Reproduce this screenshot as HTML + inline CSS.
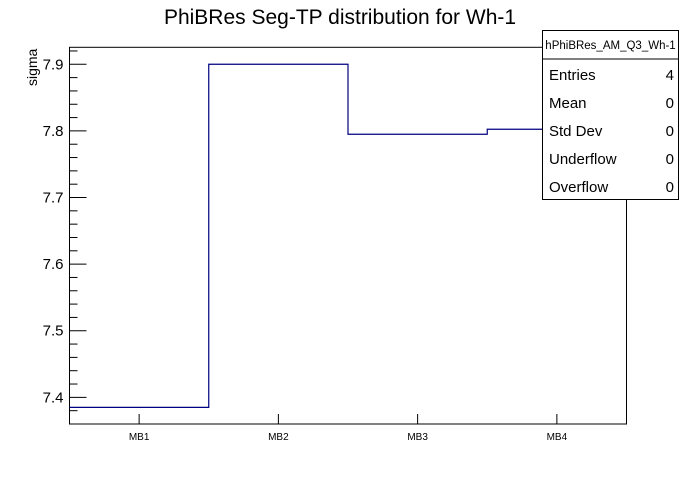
<!DOCTYPE html>
<html><head><meta charset="utf-8"><style>
body{margin:0;background:#fff;}
svg text{font-family:"Liberation Sans",sans-serif;}
</style></head><body>
<svg id="c" width="696" height="472" xmlns="http://www.w3.org/2000/svg">
<rect width="696" height="472" fill="#fff"/>
<text x="340" y="24" font-size="21" text-anchor="middle">PhiBRes Seg-TP distribution for Wh-1</text>
<text transform="translate(37,86) rotate(-90)" font-size="14" text-anchor="start">sigma</text>
<g id="axes"></g>
<g id="plot"></g>
<g>
<rect x="542.5" y="30.5" width="136" height="169" fill="#fff" stroke="#000"/>
<line x1="542.5" y1="59" x2="678.5" y2="59" stroke="#000"/>
<text x="610.5" y="49" font-size="11.5" text-anchor="middle">hPhiBRes_AM_Q3_Wh-1</text>
<text x="549" y="80" font-size="15">Entries</text><text x="674" y="80" font-size="15" text-anchor="end">4</text>
<text x="549" y="108" font-size="15">Mean</text><text x="674" y="108" font-size="15" text-anchor="end">0</text>
<text x="549" y="136" font-size="15">Std Dev</text><text x="674" y="136" font-size="15" text-anchor="end">0</text>
<text x="549" y="164" font-size="15">Underflow</text><text x="674" y="164" font-size="15" text-anchor="end">0</text>
<text x="549" y="192" font-size="15">Overflow</text><text x="674" y="192" font-size="15" text-anchor="end">0</text>
</g>
</svg>
<script>
const categories=["MB1","MB2","MB3","MB4"];
const values=[7.385,7.9,7.795,7.8025];
const yTicks=[7.4,7.5,7.6,7.7,7.8,7.9];
const NS="http://www.w3.org/2000/svg";
const L=69.5,R=626.5,T=47.3,B=424,ymin=7.36,ymax=7.9255;
const y=v=>B-(v-ymin)/(ymax-ymin)*(B-T);
const bw=(R-L)/categories.length;
const x=i=>L+i*bw;
function mk(tag,attrs,parent){const e=document.createElementNS(NS,tag);for(const k in attrs)e.setAttribute(k,attrs[k]);parent.insertBefore(e,null);return e;}
const ax=document.getElementById('axes'),pl=document.getElementById('plot');
const frame=mk('rect',{x:L,y:T,width:R-L,height:B-T,fill:'none',stroke:'#000'},ax);


for(let v=7.36;v<=7.926;v+=0.02){const vv=Math.round(v*100)/100;const major=Math.abs(vv*10-Math.round(vv*10))<1e-6;
 const t=mk('line',{x1:L,x2:L+(major?17:8),y1:y(vv),y2:y(vv),stroke:'#000'},ax);
 
 }
yTicks.forEach(v=>{const t=mk('text',{x:L-6,y:y(v)+5,'font-size':15,'text-anchor':'end'},ax);t.textContent=v.toFixed(1);
 
 });
categories.forEach((c,i)=>{const cx=x(i)+bw/2;
 const t=mk('line',{x1:cx,x2:cx,y1:B,y2:B-10,stroke:'#000'},ax);
 
 
 const l=mk('text',{x:cx,y:B+16,'font-size':10,'text-anchor':'middle'},ax);l.textContent=c;
 
 });
let d='';values.forEach((v,i)=>{d+=(i?'L':'M')+x(i)+','+y(v)+'L'+x(i+1)+','+y(v);});
const p=mk('path',{d:d,fill:'none',stroke:'#000080','stroke-width':1.2},pl);


</script>
</body></html>
